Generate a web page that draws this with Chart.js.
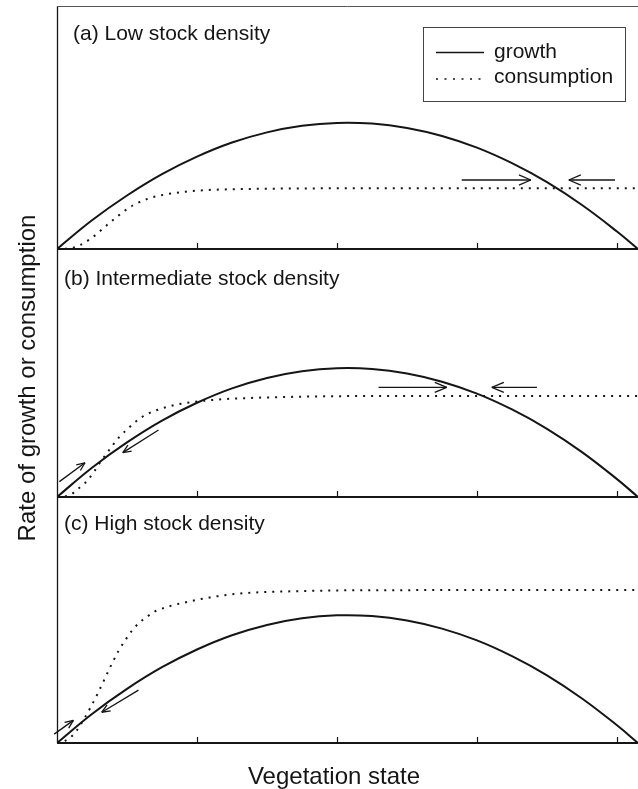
<!DOCTYPE html>
<html>
<head>
<meta charset="utf-8">
<script src="https://cdn.jsdelivr.net/npm/chart.js@4.4.1/dist/chart.umd.min.js"></script>
<style>
  body { margin: 0; background: #fff; overflow: hidden; }
  #wrap { position: relative; width: 638px; height: 789px; }
  canvas { position: absolute; left: 0; top: 0; }
</style>
</head>
<body>
<div id="wrap">
  <canvas id="chartA" width="638" height="789"></canvas>
  <canvas id="chartB" width="638" height="789"></canvas>
  <canvas id="chartC" width="638" height="789"></canvas>
</div>
<script>
// vegetation state (x) and growth rate, same curve in every panel
var growthX = [0, 0.25, 0.5, 0.75, 1, 1.25, 1.5, 1.75, 2, 2.25, 2.5, 2.75, 3, 3.25, 3.5, 3.75, 4, 4.15]
var growthY = [0, 1.18, 2.20, 3.08, 3.80, 4.38, 4.80, 5.07, 5.19, 5.16, 4.98, 4.65, 4.17, 3.53, 2.75, 1.81, 0.72, 0]

// consumption, (a) low stock density
var consAX = [0, 0.1, 0.16, 0.24, 0.32, 0.38, 0.44, 0.49, 0.54, 0.6, 0.65, 0.71, 0.78, 0.85, 0.92, 1.05, 1.36, 1.7, 2.2, 4.15]
var consAY = [0, 0.03, 0.15, 0.42, 0.8, 1.1, 1.38, 1.6, 1.79, 1.96, 2.07, 2.17, 2.25, 2.31, 2.36, 2.42, 2.47, 2.49, 2.5, 2.5]

// consumption, (b) intermediate stock density
var consBX = [0, 0.05, 0.1, 0.15, 0.2, 0.25, 0.3, 0.35, 0.4, 0.45, 0.5, 0.55, 0.6, 0.65, 0.72, 0.79, 0.86, 0.93, 1.05, 1.2, 1.36, 1.7, 2.2, 4.15]
var consBY = [0, 0.02, 0.1, 0.33, 0.56, 0.9, 1.33, 1.72, 2.1, 2.45, 2.72, 2.98, 3.2, 3.36, 3.52, 3.64, 3.73, 3.8, 3.88, 3.95, 3.99, 4.04, 4.07, 4.07]

// consumption, (c) high stock density
var consCX = [0, 0.04, 0.09, 0.14, 0.19, 0.24, 0.29, 0.34, 0.39, 0.44, 0.49, 0.54, 0.59, 0.64, 0.7, 0.77, 0.84, 0.92, 1.0, 1.15, 1.36, 1.7, 2.2, 4.15]
var consCY = [0, 0.05, 0.2, 0.5, 0.95, 1.45, 2.0, 2.6, 3.2, 3.75, 4.2, 4.6, 4.9, 5.12, 5.35, 5.5, 5.62, 5.72, 5.82, 5.97, 6.1, 6.17, 6.21, 6.22]

// arrows as [x1, y1, x2, y2] in data units (head at the second point)
var arrowsA = [[2.891, 2.84, 3.385, 2.84], [3.986, 2.84, 3.656, 2.84]]
var arrowsB = [[2.297, 4.42, 2.784, 4.42], [3.428, 4.42, 3.106, 4.42], [0.017, 0.62, 0.2, 1.38], [0.725, 2.70, 0.470, 1.79]]
var arrowsC = [[-0.02, 0.36, 0.117, 0.92], [0.582, 2.15, 0.320, 1.25]]

var xTicks = [1, 2, 3, 4]
var legendLabels = ['growth', 'consumption']

const FONT = '"Liberation Sans", Arial, Helvetica, sans-serif'
const INK = '#151515'

function pts(xs, ys) {
    return xs.map(function (x, i) { return { x: x, y: ys[i] } })
}

function seg(c, x1, y1, x2, y2) {
    c.beginPath()
    c.moveTo(x1, y1)
    c.lineTo(x2, y2)
    c.stroke()
}

const decor = {
    id: 'decor',
    afterDraw(chart, args, opts) {
        const c = chart.ctx
        const a = chart.chartArea
        const xs = chart.scales.x
        const ys = chart.scales.y
        c.save()
        c.strokeStyle = INK
        c.fillStyle = INK

        // frame
        c.lineWidth = 1.3
        seg(c, a.left + 0.5, a.top, a.left + 0.5, a.bottom)
        if (opts.topLine) {
            c.lineWidth = 1
            c.strokeStyle = '#555'
            seg(c, a.left, a.top + 0.5, a.right, a.top + 0.5)
            c.strokeStyle = INK
        }
        c.lineWidth = 2.2
        seg(c, a.left, a.bottom, a.right, a.bottom)

        // inward tick marks
        c.lineWidth = 1.2
        xTicks.forEach(function (t) {
            const px = Math.round(xs.getPixelForValue(t)) + 0.5
            seg(c, px, a.bottom, px, a.bottom - 6)
        })

        // arrows
        c.lineWidth = 1.3
        opts.arrows.forEach(function (ar) {
            const x1 = xs.getPixelForValue(ar[0]), y1 = ys.getPixelForValue(ar[1])
            const x2 = xs.getPixelForValue(ar[2]), y2 = ys.getPixelForValue(ar[3])
            seg(c, x1, y1, x2, y2)
            const ang = Math.atan2(y2 - y1, x2 - x1)
            const head = Math.abs(y2 - y1) < 1 ? 13 : 9
            const spread = 0.4
            seg(c, x2, y2, x2 - head * Math.cos(ang - spread), y2 - head * Math.sin(ang - spread))
            seg(c, x2, y2, x2 - head * Math.cos(ang + spread), y2 - head * Math.sin(ang + spread))
        })

        // panel label
        c.font = '21px ' + FONT
        c.textBaseline = 'alphabetic'
        c.textAlign = 'left'
        c.fillText(opts.label, opts.labelX, a.top + opts.labelDy)

        // legend box
        if (opts.legend) {
            c.lineWidth = 1
            c.strokeStyle = '#444'
            c.strokeRect(423.5, 27.5, 202, 74)
            c.strokeStyle = INK
            c.lineWidth = 1.5
            seg(c, 436, 52.5, 484, 52.5)
            c.setLineDash([2, 6.5])
            seg(c, 436, 79, 484, 79)
            c.setLineDash([])
            c.fillText(legendLabels[0], 494, 58)
            c.fillText(legendLabels[1], 494, 83)
        }

        // axis titles
        if (opts.axisTitles) {
            c.font = '24px ' + FONT
            c.textAlign = 'center'
            c.fillText('Vegetation state', 334, 784)
            c.translate(35, 378)
            c.rotate(-Math.PI / 2)
            c.fillText('Rate of growth or consumption', 0, 0)
        }
        c.restore()
    }
}

function makePanel(id, consX, consY, top, bottom, decorOpts) {
    const el = document.getElementById(id)
    return new Chart(el, {
        type: 'line',
        data: {
            datasets: [{
                label: 'growth',
                data: pts(growthX, growthY),
                borderColor: INK,
                borderWidth: 2,
                pointRadius: 0,
                tension: 0.4,
                fill: false
            }, {
                label: 'consumption',
                data: pts(consX, consY),
                borderColor: INK,
                borderWidth: 2,
                borderDash: [2, 6],
                borderCapStyle: 'butt',
                pointRadius: 0,
                cubicInterpolationMode: 'monotone',
                fill: false
            }]
        },
        options: {
            responsive: false,
            animation: false,
            devicePixelRatio: 1,
            layout: { padding: { left: 57, right: 0, top: top, bottom: 789 - bottom } },
            scales: {
                x: { type: 'linear', min: 0, max: 4.15, display: false, ticks: { stepSize: 1 } },
                y: { type: 'linear', min: 0, max: 10, display: false }
            },
            plugins: {
                legend: { display: false },
                tooltip: { enabled: false },
                decor: decorOpts
            }
        },
        plugins: [decor]
    })
}

const chartA = makePanel('chartA', consAX, consAY, 6, 249, {
    label: '(a) Low stock density', labelX: 73, labelDy: 33.5,
    arrows: arrowsA, topLine: true, legend: true
})
const chartB = makePanel('chartB', consBX, consBY, 249, 497, {
    label: '(b) Intermediate stock density', labelX: 64, labelDy: 36,
    arrows: arrowsB
})
const chartC = makePanel('chartC', consCX, consCY, 497, 743, {
    label: '(c) High stock density', labelX: 64, labelDy: 33,
    arrows: arrowsC, axisTitles: true
})
</script>
</body>
</html>
